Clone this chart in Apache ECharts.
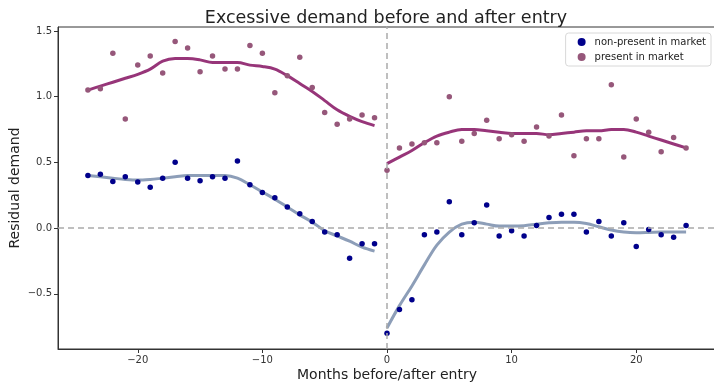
<!DOCTYPE html>
<html lang="en">
<head>
  <meta charset="UTF-8">
  <title>Excessive demand before and after entry</title>
  <script src="https://cdn.jsdelivr.net/npm/echarts@6/dist/echarts.min.js"></script>
  <style>
    html, body { margin: 0; padding: 0; background: #fff; }
  </style>
</head>
<body>
  <div id="main" style="width: 714px;height:383px;"></div>
  <script>
    // months before entry and from entry on
    var monthsPre = [-24, -23, -22, -21, -20, -19, -18, -17, -16, -15, -14, -13,
      -12, -11, -10, -9, -8, -7, -6, -5, -4, -3, -2, -1];
    var monthsPost = [0, 1, 2, 3, 4, 5, 6, 7, 8, 9, 10, 11, 12,
      13, 14, 15, 16, 17, 18, 19, 20, 21, 22, 23, 24];

    // present in market - points
    var presentPre = [1.05, 1.06, 1.33, 0.83, 1.24, 1.31, 1.18, 1.42, 1.37, 1.19, 1.31, 1.21,
      1.21, 1.39, 1.33, 1.03, 1.16, 1.30, 1.07, 0.88, 0.79, 0.83, 0.86, 0.84];
    var presentPost = [0.44, 0.61, 0.64, 0.65, 0.65, 1.00, 0.66, 0.72, 0.82, 0.68, 0.71, 0.66, 0.77,
      0.70, 0.86, 0.55, 0.68, 0.68, 1.09, 0.54, 0.83, 0.73, 0.58, 0.69, 0.61];
    // present in market - smoothed line
    var presentFitPre = [1.05, 1.08, 1.11, 1.14, 1.17, 1.21, 1.27, 1.29, 1.29, 1.28, 1.26, 1.26,
      1.26, 1.24, 1.23, 1.21, 1.16, 1.10, 1.04, 0.97, 0.90, 0.85, 0.81, 0.78];
    var presentFitPost = [0.49, 0.54, 0.59, 0.65, 0.70, 0.73, 0.75, 0.75, 0.74, 0.73, 0.72, 0.72, 0.72,
      0.71, 0.72, 0.73, 0.74, 0.74, 0.75, 0.75, 0.73, 0.70, 0.67, 0.64, 0.61];

    // non-present in market - points
    var absentPre = [0.40, 0.41, 0.355, 0.39, 0.35, 0.31, 0.38, 0.50, 0.38, 0.36, 0.39, 0.38,
      0.51, 0.33, 0.27, 0.23, 0.16, 0.11, 0.05, -0.03, -0.05, -0.23, -0.12, -0.12];
    var absentPost = [-0.80, -0.62, -0.545, -0.05, -0.03, 0.20, -0.05, 0.04, 0.175, -0.06, -0.02, -0.06, 0.02,
      0.08, 0.105, 0.105, -0.03, 0.05, -0.06, 0.04, -0.14, -0.01, -0.05, -0.07, 0.02];
    // non-present in market - smoothed line
    var absentFitPre = [0.40, 0.39, 0.38, 0.37, 0.365, 0.37, 0.38, 0.39, 0.40, 0.40, 0.40, 0.40,
      0.38, 0.33, 0.275, 0.22, 0.16, 0.10, 0.045, -0.02, -0.06, -0.10, -0.145, -0.175];
    var absentFitPost = [-0.76, -0.59, -0.44, -0.28, -0.13, -0.03, 0.03, 0.045, 0.03, 0.015, 0.015, 0.018, 0.03,
      0.04, 0.045, 0.045, 0.035, 0.01, -0.015, -0.03, -0.035, -0.033, -0.03, -0.03, -0.03];

    // tick labels
    var xTicks = [-20, -10, 0, 10, 20];
    var yTicks = [-0.5, 0, 0.5, 1.0, 1.5];

    function pairs(xs, ys) {
      return xs.map(function (x, i) { return [x, ys[i]]; });
    }

    var font = 'DejaVu Sans';
    var myChart = echarts.init(document.getElementById('main'));

    var fitLine = function (name, data, color) {
      return {
        name: name,
        type: 'line',
        data: data,
        smooth: 0.35,
        showSymbol: false,
        symbol: 'none',
        z: 3,
        lineStyle: { color: color, width: 3, opacity: 0.9 },
        silent: true
      };
    };

    myChart.setOption({
      animation: false,
      title: {
        text: 'Excessive demand before and after entry',
        left: 381,
        textAlign: 'center',
        top: 4,
        textStyle: { fontFamily: font, fontSize: 17.5, fontWeight: 'normal', color: '#222' }
      },
      legend: {
        data: ['non-present in market', 'present in market'],
        orient: 'vertical',
        right: 3,
        top: 33,
        icon: 'circle',
        itemWidth: 8,
        itemHeight: 8,
        itemGap: 5,
        padding: [4, 5, 4, 12],
        borderColor: '#d8d8d8',
        borderWidth: 1,
        borderRadius: 3,
        backgroundColor: '#fff',
        textStyle: { fontFamily: font, fontSize: 10, color: '#222', padding: [0, 0, 0, 4] }
      },
      grid: {
        left: 58,
        right: -2,
        top: 27,
        bottom: 34,
        containLabel: false,
        outerBoundsMode: 'none',
        show: true,
        borderColor: '#333',
        borderWidth: 1
      },
      xAxis: {
        type: 'value',
        min: -26.4,
        max: 26.4,
        name: 'Months before/after entry',
        nameLocation: 'middle',
        nameGap: 19,
        nameMoveOverlap: false,
        nameTextStyle: { fontFamily: font, fontSize: 14, color: '#222' },
        splitLine: { show: false },
        axisLine: { onZero: false, lineStyle: { color: '#333' } },
        axisTick: { customValues: xTicks, length: 4, lineStyle: { color: '#333' } },
        axisLabel: {
          customValues: xTicks,
          fontFamily: font,
          fontSize: 10,
          color: '#333',
          margin: 6,
          formatter: function (v) { return v < 0 ? '\u2212' + Math.abs(v) : String(v); }
        }
      },
      yAxis: {
        type: 'value',
        min: -0.92,
        max: 1.53,
        name: 'Residual demand',
        nameLocation: 'middle',
        nameGap: 36,
        nameMoveOverlap: false,
        nameTextStyle: { fontFamily: font, fontSize: 14, color: '#222' },
        splitLine: { show: false },
        axisLine: { show: true, onZero: false, lineStyle: { color: '#333' } },
        axisTick: { show: true, customValues: yTicks, length: 4, lineStyle: { color: '#333' } },
        axisLabel: {
          customValues: yTicks,
          fontFamily: font,
          fontSize: 10,
          color: '#333',
          margin: 6,
          formatter: function (v) {
            var s = Math.abs(v).toFixed(1);
            return v < 0 ? '\u2212' + s : s;
          }
        }
      },
      series: [
        {
          name: 'ref',
          type: 'line',
          data: [],
          silent: true,
          markLine: {
            silent: true,
            symbol: 'none',
            label: { show: false },
            lineStyle: { color: '#aaa', type: [6, 4], width: 1.5 },
            data: [{ xAxis: 0 }, { yAxis: 0 }]
          }
        },
        fitLine('present fit pre', pairs(monthsPre, presentFitPre), '#8c1f6a'),
        fitLine('present fit post', pairs(monthsPost, presentFitPost), '#8c1f6a'),
        fitLine('absent fit pre', pairs(monthsPre, absentFitPre), '#8193b0'),
        fitLine('absent fit post', pairs(monthsPost, absentFitPost), '#8193b0'),
        {
          name: 'non-present in market',
          type: 'scatter',
          symbolSize: 5.5,
          z: 4,
          itemStyle: { color: '#00008b', opacity: 1 },
          data: pairs(monthsPre, absentPre).concat(pairs(monthsPost, absentPost))
        },
        {
          name: 'present in market',
          type: 'scatter',
          symbolSize: 5.5,
          z: 4,
          itemStyle: { color: '#96577a', opacity: 1 },
          data: pairs(monthsPre, presentPre).concat(pairs(monthsPost, presentPost))
        }
      ]
    });
  </script>
</body>
</html>
